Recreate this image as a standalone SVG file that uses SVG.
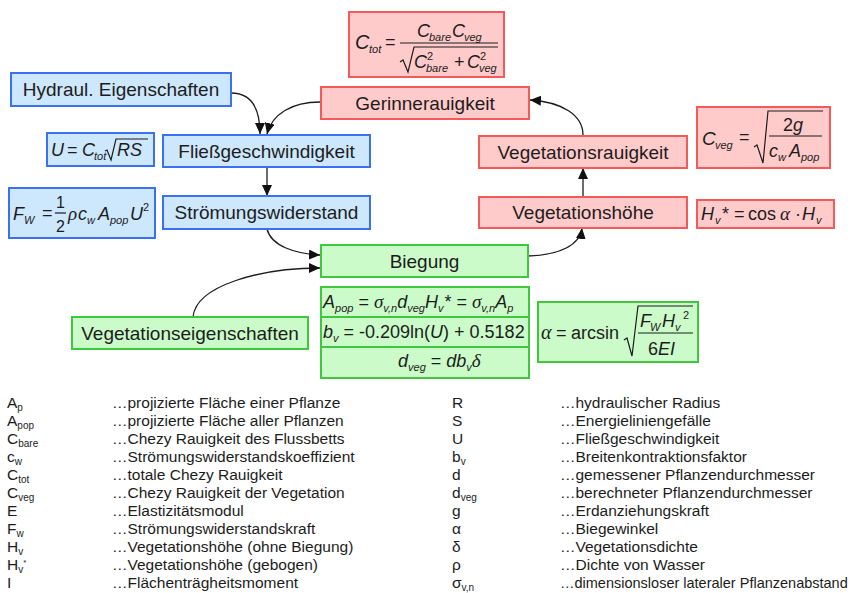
<svg xmlns="http://www.w3.org/2000/svg" width="854" height="593" viewBox="0 0 854 593">
<defs>
<style>
text{font-family:"Liberation Sans",Arial,sans-serif;fill:#1c1c1c}
.lbl{font-size:19px;text-anchor:middle}
.blue{fill:#cde7fd;stroke:#3a70f2;stroke-width:2}
.red{fill:#ffcaca;stroke:#f45a5a;stroke-width:2}
.green{fill:#cbfbc9;stroke:#3fc83f;stroke-width:2}
.f{font-size:18px}
.i{font-style:italic}
.gr{font-family:"Liberation Serif","Times New Roman",serif;font-style:italic;font-size:19px}
.s{font-size:11px}
.leg{font-size:15.5px}
.ls{font-size:10px}
.fl{stroke:#1c1c1c;stroke-width:1.2;fill:none}
.con path{fill:none;stroke:#1c1c1c;stroke-width:1.3}
</style>
<marker id="ah" markerUnits="userSpaceOnUse" markerWidth="12" markerHeight="10" refX="11" refY="5" orient="auto">
<path d="M0,0 L11,5 L0,10 z" fill="#111"/>
</marker>
</defs>
<rect width="854" height="593" fill="#fff"/>

<g id="connectors" class="con">
<path d="M231,93 C252,93 260,110 260,134" marker-end="url(#ah)"/>
<path d="M320,102 C292,102 272,114 267,134" marker-end="url(#ah)"/>
<path d="M267,167 L267,196" marker-end="url(#ah)"/>
<path d="M267,229 C271,246 296,254 320,255" marker-end="url(#ah)"/>
<path d="M193,317 C196,285 262,268 320,268" marker-end="url(#ah)"/>
<path d="M528,256 C560,255 580,245 582,228" marker-end="url(#ah)"/>
<path d="M583,196 L583,168" marker-end="url(#ah)"/>
<path d="M583,135 C583,115 562,102 530,100" marker-end="url(#ah)"/>
</g>

<g id="hydraul">
<rect class="blue" x="11" y="73" width="220" height="33"/>
<text class="lbl" x="121" y="96">Hydraul. Eigenschaften</text>
</g>
<g id="fliess">
<rect class="blue" x="163" y="135" width="207" height="32"/>
<text class="lbl" x="266.5" y="158">Fließgeschwindigkeit</text>
</g>
<g id="stroemung">
<rect class="blue" x="163" y="196" width="207" height="33"/>
<text class="lbl" x="266.5" y="219">Strömungswiderstand</text>
</g>
<g id="gerinne">
<rect class="red" x="321" y="87" width="208" height="32"/>
<text class="lbl" x="425" y="110">Gerinnerauigkeit</text>
</g>
<g id="vegrau">
<rect class="red" x="479" y="136" width="208" height="32"/>
<text class="lbl" x="583" y="159">Vegetationsrauigkeit</text>
</g>
<g id="veghoehe">
<rect class="red" x="479" y="197" width="208" height="31"/>
<text class="lbl" x="583" y="219">Vegetationshöhe</text>
</g>
<g id="biegung">
<rect class="green" x="321" y="245" width="207" height="32"/>
<text class="lbl" x="424.5" y="268">Biegung</text>
</g>
<g id="vegeig">
<rect class="green" x="72" y="317" width="236" height="32"/>
<text class="lbl" x="190" y="340">Vegetationseigenschaften</text>
</g>

<!-- C_tot formula -->
<g id="f-ctot">
<rect class="red" x="349" y="12" width="155" height="65"/>
<text class="f i" x="355" y="49" style="font-size:20px">C</text>
<text class="s i" x="369" y="53">tot</text>
<text class="f" x="385" y="48">=</text>
<line class="fl" x1="400" y1="43" x2="498" y2="43"/>
<text class="f i" x="417" y="37">C</text>
<text class="s i" x="429" y="41">bare</text>
<text class="f i" x="452" y="37">C</text>
<text class="s i" x="464" y="41">veg</text>
<path class="fl" d="M400,62 L403,60 L408,72 L414,47 L498,47"/>
<text class="f i" x="414" y="68">C</text>
<text class="s" x="427" y="60">2</text>
<text class="s i" x="426" y="72">bare</text>
<text class="f" x="454" y="68">+</text>
<text class="f i" x="467" y="68">C</text>
<text class="s" x="480" y="60">2</text>
<text class="s i" x="479" y="72">veg</text>
</g>

<!-- U formula -->
<g id="f-u">
<rect class="blue" x="47" y="133" width="107" height="33"/>
<text class="f i" x="51" y="156">U</text>
<text class="f" x="67" y="156">=</text>
<text class="f i" x="82" y="156">C</text>
<text class="s i" x="94" y="160">tot</text>
<path class="fl" d="M105,151 L107,150 L111,160 L116,139 L148,139"/>
<text class="f i" x="117" y="156">RS</text>
</g>

<!-- F_W formula -->
<g id="f-fw">
<rect class="blue" x="9" y="188" width="146" height="50"/>
<text class="f i" x="13" y="220">F</text>
<text class="s i" x="24" y="224">W</text>
<text class="f" x="42" y="219">=</text>
<text class="f" x="56" y="208" style="font-size:16px">1</text>
<line class="fl" x1="55" y1="213" x2="66" y2="213"/>
<text class="f" x="56" y="232" style="font-size:16px">2</text>
<text class="gr" x="68" y="220">ρ</text>
<text class="f i" x="78" y="220">c</text>
<text class="s i" x="87" y="224">w</text>
<text class="f i" x="98" y="220">A</text>
<text class="s i" x="110" y="224">pop</text>
<text class="f i" x="130" y="220">U</text>
<text class="s" x="143" y="211">2</text>
</g>

<!-- C_veg formula -->
<g id="f-cveg">
<rect class="red" x="697" y="107" width="133" height="61"/>
<text class="f i" x="702" y="145" style="font-size:19px">C</text>
<text class="s i" x="715" y="149">veg</text>
<text class="f" x="739" y="143">=</text>
<path class="fl" d="M754,147 L757,145 L763,163 L768,111 L823,111"/>
<text class="f" x="783" y="131">2<tspan class="i">g</tspan></text>
<line class="fl" x1="769" y1="136" x2="822" y2="136"/>
<text class="f i" x="769" y="157">c</text>
<text class="s i" x="778" y="161">w</text>
<text class="f i" x="789" y="157">A</text>
<text class="s i" x="801" y="161">pop</text>
</g>

<!-- H_v* formula -->
<g id="f-hv">
<rect class="red" x="697" y="200" width="137" height="28"/>
<text class="f i" x="701" y="220">H</text>
<text class="s i" x="715" y="224">v</text>
<text class="f" x="722" y="220">*</text>
<text class="f" x="734" y="220">=</text>
<text class="f" x="748" y="220">cos</text>
<text class="gr" x="780" y="220">α</text>
<text class="f" x="795" y="220">·</text>
<text class="f i" x="802" y="220">H</text>
<text class="s i" x="816" y="224">v</text>
</g>

<!-- stacked green formulas -->
<g id="f-apop">
<rect class="green" x="321" y="287" width="208" height="30"/>
<text class="f" x="323" y="308" xml:space="preserve"><tspan class="i">A</tspan><tspan class="s i" dy="4">pop</tspan><tspan dy="-4"> = </tspan><tspan class="gr">σ</tspan><tspan class="s i" dy="4">v,n</tspan><tspan class="i" dy="-4">d</tspan><tspan class="s i" dy="4">veg</tspan><tspan class="i" dy="-4">H</tspan><tspan class="s i" dy="4">v</tspan><tspan dy="-4" dx="1">*</tspan><tspan> = </tspan><tspan class="gr">σ</tspan><tspan class="s i" dy="4">v,n</tspan><tspan class="i" dy="-4">A</tspan><tspan class="s i" dy="4">p</tspan></text>
</g>
<g id="f-bv">
<rect class="green" x="321" y="317" width="208" height="30"/>
<text class="f" x="323" y="338" xml:space="preserve"><tspan class="i">b</tspan><tspan class="s i" dy="4">v</tspan><tspan dy="-4"> = -0.209ln(</tspan><tspan class="i">U</tspan><tspan>) + 0.5182</tspan></text>
</g>
<g id="f-dveg">
<rect class="green" x="321" y="347" width="208" height="31"/>
<text class="f" x="398" y="367" xml:space="preserve"><tspan class="i">d</tspan><tspan class="s i" dy="4">veg</tspan><tspan dy="-4"> = </tspan><tspan class="i">db</tspan><tspan class="s i" dy="4">v</tspan><tspan class="gr" dy="-4">δ</tspan></text>
</g>

<!-- alpha formula -->
<g id="f-alpha">
<rect class="green" x="538" y="302" width="160" height="60"/>
<text class="gr" x="541" y="339" style="font-size:20px">α</text>
<text class="f" x="556" y="339">=</text>
<text class="f" x="571" y="339">arcsin</text>
<path class="fl" d="M624,340 L627,338 L632,356 L638,306 L693,306"/>
<text class="f i" x="640" y="327">F</text>
<text class="s i" x="650" y="331">W</text>
<text class="f i" x="662" y="327">H</text>
<text class="s i" x="675" y="331">v</text>
<text class="s" x="683" y="319">2</text>
<line class="fl" x1="638" y1="333" x2="693" y2="333"/>
<text class="f" x="648" y="355">6<tspan class="i">EI</tspan></text>
</g>

<!-- legend -->
<g id="legend" class="leg">
<text x="7" y="408">A<tspan class="ls" dy="3">p</tspan></text>
<text x="7" y="426">A<tspan class="ls" dy="3">pop</tspan></text>
<text x="7" y="444">C<tspan class="ls" dy="3">bare</tspan></text>
<text x="7" y="462">c<tspan class="ls" dy="3">w</tspan></text>
<text x="7" y="480">C<tspan class="ls" dy="3">tot</tspan></text>
<text x="7" y="498">C<tspan class="ls" dy="3">veg</tspan></text>
<text x="7" y="516">E</text>
<text x="7" y="534">F<tspan class="ls" dy="3">w</tspan></text>
<text x="7" y="552">H<tspan class="ls" dy="3">v</tspan></text>
<text x="7" y="570">H<tspan class="ls" dy="3">v</tspan><tspan style="font-size:8px" dy="-8">*</tspan></text>
<text x="7" y="588">I</text>
<text x="112" y="408">…projizierte Fläche einer Pflanze</text>
<text x="112" y="426">…projizierte Fläche aller Pflanzen</text>
<text x="112" y="444">…Chezy Rauigkeit des Flussbetts</text>
<text x="112" y="462">…Strömungswiderstandskoeffizient</text>
<text x="112" y="480">…totale Chezy Rauigkeit</text>
<text x="112" y="498">…Chezy Rauigkeit der Vegetation</text>
<text x="112" y="516">…Elastizitätsmodul</text>
<text x="112" y="534">…Strömungswiderstandskraft</text>
<text x="112" y="552">…Vegetationshöhe (ohne Biegung)</text>
<text x="112" y="570">…Vegetationshöhe (gebogen)</text>
<text x="112" y="588">…Flächenträgheitsmoment</text>

<text x="452" y="408">R</text>
<text x="452" y="426">S</text>
<text x="452" y="444">U</text>
<text x="452" y="462">b<tspan class="ls" dy="3">v</tspan></text>
<text x="452" y="480">d</text>
<text x="452" y="498">d<tspan class="ls" dy="3">veg</tspan></text>
<text x="452" y="516">g</text>
<text x="452" y="534">α</text>
<text x="452" y="552">δ</text>
<text x="452" y="570">ρ</text>
<text x="452" y="588">σ<tspan class="ls" dy="3">v,n</tspan></text>
<text x="560" y="408">…hydraulischer Radius</text>
<text x="560" y="426">…Energieliniengefälle</text>
<text x="560" y="444">…Fließgeschwindigkeit</text>
<text x="560" y="462">…Breitenkontraktionsfaktor</text>
<text x="560" y="480">…gemessener Pflanzendurchmesser</text>
<text x="560" y="498">…berechneter Pflanzendurchmesser</text>
<text x="560" y="516">…Erdanziehungskraft</text>
<text x="560" y="534">…Biegewinkel</text>
<text x="560" y="552">…Vegetationsdichte</text>
<text x="560" y="570">…Dichte von Wasser</text>
<text x="560" y="588" style="font-size:14.5px">…dimensionsloser lateraler Pflanzenabstand</text>
</g>
</svg>
